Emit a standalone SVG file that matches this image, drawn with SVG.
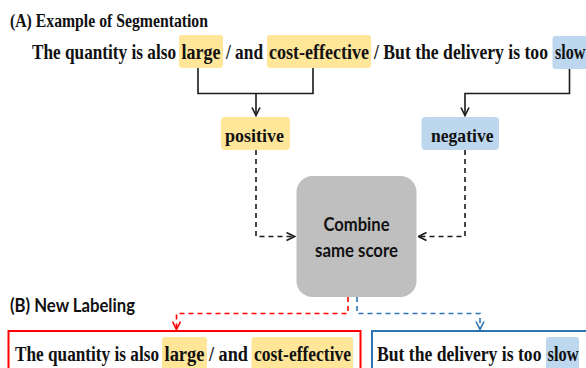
<svg xmlns="http://www.w3.org/2000/svg" width="586" height="368" viewBox="0 0 586 368">
  <style>
    .serif { font-family: "Liberation Serif", "DejaVu Serif", serif; font-weight: bold; fill: #111; }
    .sans { font-family: "Lato", "Liberation Sans", sans-serif; font-weight: bold; fill: #111; }
    .hl-pos { fill: #ffe699; }
    .hl-neg { fill: #bdd7ee; }
    .solid { fill: none; stroke: #1a1a1a; stroke-width: 1.6; }
    .dash { fill: none; stroke: #1a1a1a; stroke-width: 1.6; stroke-dasharray: 5 4; }
    .dash-red { fill: none; stroke: #ff0000; stroke-width: 1.6; stroke-dasharray: 5 4; }
    .dash-blue { fill: none; stroke: #2e75b6; stroke-width: 1.6; stroke-dasharray: 5 4; }
  </style>
  <defs>
    <marker id="arr" viewBox="0 0 10 10" refX="9" refY="5" markerWidth="10" markerHeight="10" markerUnits="userSpaceOnUse" orient="auto">
      <polyline points="1,1 9,5 1,9" fill="none" stroke="#1a1a1a" stroke-width="1.6"/>
    </marker>
    <marker id="arr-red" viewBox="0 0 10 10" refX="9" refY="5" markerWidth="10" markerHeight="10" markerUnits="userSpaceOnUse" orient="auto">
      <polyline points="1,1 9,5 1,9" fill="none" stroke="#ff0000" stroke-width="1.6"/>
    </marker>
    <marker id="arr-blue" viewBox="0 0 10 10" refX="9" refY="5" markerWidth="10" markerHeight="10" markerUnits="userSpaceOnUse" orient="auto">
      <polyline points="1,1 9,5 1,9" fill="none" stroke="#2e75b6" stroke-width="1.6"/>
    </marker>
  </defs>

  <!-- section titles -->
  <text class="serif" x="10" y="27" font-size="18" textLength="198" lengthAdjust="spacingAndGlyphs">(A) Example of Segmentation</text>
  <text class="sans" x="10" y="312" font-size="18" textLength="125" lengthAdjust="spacingAndGlyphs">(B) New Labeling</text>

  <!-- segmented sentence -->
  <g id="sentence">
    <rect class="hl-pos" x="179" y="35" width="44" height="33" rx="3"/>
    <rect class="hl-pos" x="267" y="35" width="104" height="33" rx="3"/>
    <rect class="hl-neg" x="552.5" y="36" width="40" height="33" rx="3"/>
    <text class="serif" x="32" y="59" font-size="21" textLength="144" lengthAdjust="spacingAndGlyphs">The quantity is also</text>
    <text class="serif" x="181.5" y="59" font-size="21" textLength="39" lengthAdjust="spacingAndGlyphs">large</text>
    <text class="serif" x="226" y="59" font-size="21" textLength="37" lengthAdjust="spacingAndGlyphs">/ and</text>
    <text class="serif" x="269" y="59" font-size="21" textLength="100" lengthAdjust="spacingAndGlyphs">cost-effective</text>
    <text class="serif" x="374" y="59" font-size="21" textLength="174" lengthAdjust="spacingAndGlyphs">/ But the delivery is too</text>
    <text class="serif" x="555" y="59" font-size="21" textLength="30.5" lengthAdjust="spacingAndGlyphs">slow</text>
  </g>

  <!-- sentiment labels -->
  <g id="positive">
    <rect class="hl-pos" x="221" y="117" width="69" height="33" rx="4"/>
    <text class="serif" x="225" y="141.5" font-size="19" textLength="59" lengthAdjust="spacingAndGlyphs">positive</text>
  </g>
  <g id="negative">
    <rect class="hl-neg" x="421.5" y="117" width="77.5" height="33" rx="4"/>
    <text class="serif" x="431" y="141.5" font-size="19" textLength="62.5" lengthAdjust="spacingAndGlyphs">negative</text>
  </g>

  <!-- merge step -->
  <g id="combine">
    <rect x="296.5" y="176" width="120" height="121" rx="16" fill="#bfbfbf"/>
    <text class="sans" x="356.5" y="231" font-size="19" text-anchor="middle" textLength="66" lengthAdjust="spacingAndGlyphs">Combine</text>
    <text class="sans" x="356.5" y="257" font-size="19" text-anchor="middle" textLength="83" lengthAdjust="spacingAndGlyphs">same score</text>
  </g>

  <!-- relabelled output segments -->
  <g id="segment-positive">
    <rect x="8.5" y="331" width="352" height="50" fill="none" stroke="#ff0000" stroke-width="2"/>
    <rect class="hl-pos" x="162" y="337" width="45" height="33" rx="3"/>
    <rect class="hl-pos" x="251.5" y="337" width="101.5" height="33" rx="3"/>
    <text class="serif" x="15" y="360.5" font-size="20" textLength="144" lengthAdjust="spacingAndGlyphs">The quantity is also</text>
    <text class="serif" x="164.5" y="360.5" font-size="20" textLength="40" lengthAdjust="spacingAndGlyphs">large</text>
    <text class="serif" x="209" y="360.5" font-size="20" textLength="39" lengthAdjust="spacingAndGlyphs">/ and</text>
    <text class="serif" x="254" y="360.5" font-size="20" textLength="97" lengthAdjust="spacingAndGlyphs">cost-effective</text>
  </g>
  <g id="segment-negative">
    <rect x="372" y="331" width="230" height="50" fill="none" stroke="#2e75b6" stroke-width="2"/>
    <rect class="hl-neg" x="546" y="337" width="33" height="33" rx="3"/>
    <text class="serif" x="377" y="360.5" font-size="20" textLength="164.5" lengthAdjust="spacingAndGlyphs">But the delivery is too</text>
    <text class="serif" x="547.5" y="360.5" font-size="20" textLength="31" lengthAdjust="spacingAndGlyphs">slow</text>
  </g>

  <!-- connectors -->
  <g id="connectors">
    <polyline class="solid" points="198,68 198,93.5 313,93.5 313,68"/>
    <line class="solid" x1="256" y1="93.5" x2="256" y2="115.5" marker-end="url(#arr)"/>
    <polyline class="solid" points="569.5,69 569.5,93.5 465,93.5 465,115.5" marker-end="url(#arr)"/>
    <polyline class="dash" points="256,150 256,236.5 294.5,236.5" marker-end="url(#arr)"/>
    <polyline class="dash" points="465,150 465,236.5 418.5,236.5" marker-end="url(#arr)"/>
    <polyline class="dash-red" points="348,297 348,313.5 176.5,313.5 176.5,329.5" marker-end="url(#arr-red)"/>
    <polyline class="dash-blue" points="357,297 357,313.5 480,313.5 480,329.5" marker-end="url(#arr-blue)"/>
  </g>
</svg>
